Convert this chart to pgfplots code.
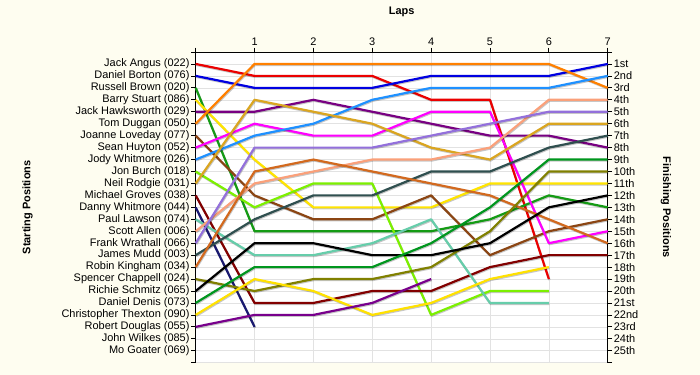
\documentclass[border=0pt]{standalone}
\usepackage{pgfplots}
\pgfplotsset{compat=1.18}
\usepackage{fontspec}
\setmainfont{Liberation Sans}
\definecolor{bg}{RGB}{254,253,240}
\definecolor{gridc}{RGB}{226,226,226}
\definecolor{cRed}{RGB}{235,0,0}
\definecolor{cBlue}{RGB}{0,0,225}
\definecolor{cGreenA}{RGB}{20,155,20}
\definecolor{cYellowA}{RGB}{255,228,0}
\definecolor{cPurpleA}{RGB}{120,0,130}
\definecolor{cOrange}{RGB}{255,128,0}
\definecolor{cBrown}{RGB}{139,69,19}
\definecolor{cMagenta}{RGB}{255,0,255}
\definecolor{cLBlue}{RGB}{30,144,255}
\definecolor{cLawn}{RGB}{124,240,0}
\definecolor{cGold}{RGB}{218,165,32}
\definecolor{cDRed}{RGB}{130,0,0}
\definecolor{cNavy}{RGB}{25,25,112}
\definecolor{cAqua}{RGB}{102,205,170}
\definecolor{cSalmon}{RGB}{250,160,122}
\definecolor{cLav}{RGB}{147,112,219}
\definecolor{cSlate}{RGB}{47,79,79}
\definecolor{cChoc}{RGB}{210,105,30}
\definecolor{cOlive}{RGB}{128,128,0}
\definecolor{cGreenB}{RGB}{0,150,30}
\definecolor{cYellowB}{RGB}{255,225,0}
\definecolor{cPurpleB}{RGB}{120,0,140}
\begin{document}
\begin{tikzpicture}[font=\fontsize{11}{13}\selectfont]
\path[use as bounding box, fill=bg] (-195.7bp,-12.3bp) rectangle (504.3bp,362.7bp);
\begin{axis}[
  at={(0,0)}, anchor=south west,
  scale only axis, width=412bp, height=310.7bp,
  xmin=0, xmax=7, ymin=0, ymax=26, y dir=reverse,
  axis background/.style={fill=white},
  axis line style={draw=none},
  xtick={0,...,7}, xticklabels={,1,2,3,4,5,6,7},
  xtick pos=right, xticklabel pos=right,
  ytick={0,...,26},
  yticklabels={,Jack Angus (022),Daniel Borton (076),Russell Brown (020),Barry Stuart (086),Jack Hawksworth (029),Tom Duggan (050),Joanne Loveday (077),Sean Huyton (052),Jody Whitmore (026),Jon Burch (018),Neil Rodgie (031),Michael Groves (038),Danny Whitmore (044),Paul Lawson (074),Scott Allen (006),Frank Wrathall (066),James Mudd (003),Robin Kingham (034),Spencer Chappell (024),Richie Schmitz (065),Daniel Denis (073),Christopher Thexton (090),Robert Douglas (055),John Wilkes (085),Mo Goater (069),},
  ytick pos=left, yticklabel pos=left,
  tick align=outside, major tick length=4.5bp,
  tick style={black, line width=0.8pt},
  grid=major, major grid style={gridc, line width=0.6pt},
  yticklabel style={inner sep=1.5bp, font=\fontsize{11}{13}\selectfont},
  xticklabel style={inner sep=1.5bp, font=\fontsize{11}{13}\selectfont},
  title={Laps}, title style={font=\fontsize{11}{13}\selectfont\bfseries, at={(0.5,1.111)}, anchor=center},
  ylabel={Starting Positions},
  every axis y label/.style={at={(-0.408,0.5)}, rotate=90, anchor=center, font=\fontsize{11}{13}\selectfont\bfseries},
  clip=false,
  every axis plot/.append style={line width=2.2pt, line join=round,
     preaction={draw=black, opacity=0.22, line width=2.2pt, transform canvas={xshift=0.6bp,yshift=-1bp}}},
]
\draw[black, line width=0.8pt] (axis cs:0,26) -- (axis cs:0,0) -- (axis cs:7,0) -- (axis cs:7,26);
% Jack Angus
\addplot[cRed] coordinates {(0,1)(1,2)(2,2)(3,2)(4,4)(5,4)(6,19)};
% Daniel Borton
\addplot[cBlue] coordinates {(0,2)(1,3)(2,3)(3,3)(4,2)(5,2)(6,2)(7,1)};
% Russell Brown
\addplot[cGreenA] coordinates {(0,3)(1,15)(2,15)(3,15)(4,15)(5,14)(6,12)(7,13)};
% Barry Stuart
\addplot[cYellowA] coordinates {(0,4)(1,9)(2,13)(3,13)(4,13)(5,11)(6,11)(7,11)};
% Jack Hawksworth
\addplot[cPurpleA] coordinates {(0,5)(1,5)(2,4)(3,5)(4,6)(5,7)(6,7)(7,8)};
% Tom Duggan
\addplot[cOrange] coordinates {(0,6)(1,1)(2,1)(3,1)(4,1)(5,1)(6,1)(7,3)};
% Joanne Loveday
\addplot[cBrown] coordinates {(0,7)(1,12)(2,14)(3,14)(4,12)(5,17)(6,15)(7,14)};
% Sean Huyton
\addplot[cMagenta] coordinates {(0,8)(1,6)(2,7)(3,7)(4,5)(5,5)(6,16)(7,15)};
% Jody Whitmore
\addplot[cLBlue] coordinates {(0,9)(1,7)(2,6)(3,4)(4,3)(5,3)(6,3)(7,2)};
% Jon Burch
\addplot[cLawn] coordinates {(0,10)(1,13)(2,11)(3,11)(4,22)(5,20)(6,20)};
% Neil Rodgie
\addplot[cGold] coordinates {(0,11)(1,4)(2,5)(3,6)(4,8)(5,9)(6,6)(7,6)};
% Michael Groves
\addplot[cDRed] coordinates {(0,12)(1,21)(2,21)(3,20)(4,20)(5,18)(6,17)(7,17)};
% Danny Whitmore
\addplot[cNavy] coordinates {(0,13)(1,23)};
% Paul Lawson
\addplot[cAqua] coordinates {(0,14)(1,17)(2,17)(3,16)(4,14)(5,21)(6,21)};
% Scott Allen
\addplot[cSalmon] coordinates {(0,15)(1,11)(2,10)(3,9)(4,9)(5,8)(6,4)(7,4)};
% Frank Wrathall
\addplot[cLav] coordinates {(0,16)(1,8)(2,8)(3,8)(4,7)(5,6)(6,5)(7,5)};
% James Mudd
\addplot[cSlate] coordinates {(0,17)(1,14)(2,12)(3,12)(4,10)(5,10)(6,8)(7,7)};
% Robin Kingham
\addplot[cChoc] coordinates {(0,18)(1,10)(2,9)(3,10)(4,11)(5,12)(6,14)(7,16)};
% Spencer Chappell
\addplot[cOlive] coordinates {(0,19)(1,20)(2,19)(3,19)(4,18)(5,15)(6,10)(7,10)};
% Richie Schmitz
\addplot[black] coordinates {(0,20)(1,16)(2,16)(3,17)(4,17)(5,16)(6,13)(7,12)};
% Daniel Denis
\addplot[cGreenB] coordinates {(0,21)(1,18)(2,18)(3,18)(4,16)(5,13)(6,9)(7,9)};
% Christopher Thexton
\addplot[cYellowB] coordinates {(0,22)(1,19)(2,20)(3,22)(4,21)(5,19)(6,18)};
% Robert Douglas
\addplot[cPurpleB] coordinates {(0,23)(1,22)(2,22)(3,21)(4,19)};
\end{axis}
\begin{axis}[
  at={(0,0)}, anchor=south west,
  scale only axis, width=412bp, height=310.7bp,
  xmin=0, xmax=7, ymin=0, ymax=26, y dir=reverse,
  axis line style={draw=none},
  xtick=\empty,
  ytick={0,...,26},
  yticklabels={,1st,2nd,3rd,4th,5th,6th,7th,8th,9th,10th,11th,12th,13th,14th,15th,16th,17th,18th,19th,20th,21st,22nd,23rd,24th,25th,},
  ytick pos=right, yticklabel pos=right,
  tick align=outside, major tick length=4.5bp,
  tick style={black, line width=0.8pt},
  yticklabel style={inner sep=1.5bp, font=\fontsize{11}{13}\selectfont},
  ylabel={Finishing Positions},
  every axis y label/.style={at={(1.1415,0.5)}, rotate=-90, anchor=center, font=\fontsize{11}{13}\selectfont\bfseries},
]
\end{axis}
\end{tikzpicture}
\end{document}
